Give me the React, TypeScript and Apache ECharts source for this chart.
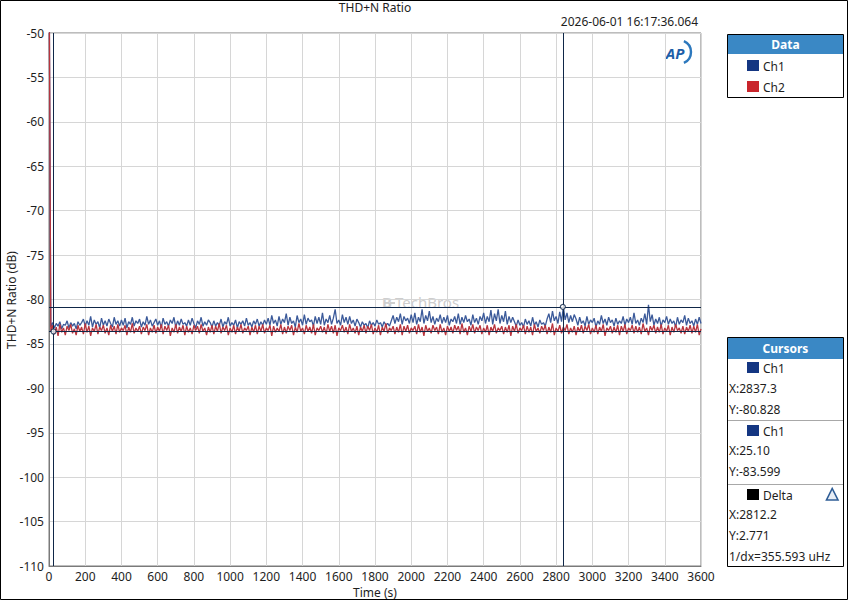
import React, { useEffect, useRef } from "react";
import * as echarts from "echarts";

const FONT = "'Noto Sans', 'DejaVu Sans', sans-serif";

const sampleStep = 10; // seconds between samples
const xTicks = { min: 0, max: 3600, interval: 200 };
const yTicks = { min: -110, max: -50, interval: 5 };

const ch1Values = [
  -40,
  -83.1, -82.6, -83.2, -82.7, -83.0, -82.5, -83.3, -82.8, -82.9, -82.4,
  -83.2, -82.6, -83.0, -82.7, -83.3, -82.5, -82.9, -82.6,
  -82.2, -83.0, -82.4, -82.9, -81.9, -83.1, -82.3, -82.8, -82.5, -83.2,
  -82.1, -82.9, -82.4, -83.0, -82.2, -82.7, -83.1, -82.0, -82.8, -82.4,
  -83.0, -82.3, -82.9, -82.1, -83.2, -82.5, -82.8, -82.0, -83.0, -82.4,
  -82.7, -82.2, -83.1, -82.5, -82.9, -81.9, -82.8, -82.3, -83.0, -82.6,
  -82.2, -82.9, -82.4, -83.2, -82.1, -82.8, -82.5, -83.0, -82.3, -82.7,
  -82.0, -83.1, -82.4, -82.9, -82.2, -82.8, -82.6, -83.0, -82.3, -82.9,
  -82.1, -82.7, -83.2, -82.4, -82.8, -82.0, -83.0, -82.5, -82.9, -82.3,
  -82.6, -83.1,
  -82.4, -83.0, -82.6, -82.9, -82.2, -83.1, -82.5, -82.8, -82.0, -83.0,
  -82.6, -82.9, -82.3, -83.2, -82.5, -82.8, -82.4, -83.0, -82.1, -82.9,
  -82.6, -83.1, -82.4, -82.8, -82.2, -83.0, -82.5, -82.9, -82.3, -82.8,
  -82.1, -82.9, -81.8, -82.7, -82.3, -83.0, -81.9, -82.8, -82.2, -82.6,
  -81.6, -82.9, -82.0, -82.7, -82.4, -83.1, -81.8, -82.6, -82.2, -82.9,
  -81.7, -82.8, -82.1, -82.5, -82.3, -83.0, -81.9, -82.7, -82.0, -82.8,
  -81.5, -82.9, -82.2, -82.6, -81.8, -82.8, -82.1, -81.1, -82.7, -82.3,
  -82.9, -81.7, -82.6, -82.0, -82.8, -81.9, -82.7, -82.3, -83.0, -82.2,
  -82.6, -83.1, -82.5, -82.9, -82.7, -83.2, -82.4, -82.9, -82.6, -83.0,
  -82.3, -82.8, -82.6, -83.1, -82.5, -82.9, -82.7, -83.0, -82.4,
  -81.8, -82.7, -82.0, -82.5, -81.6, -82.8, -81.9, -82.4, -82.1, -82.7,
  -81.7, -82.6, -81.5, -82.8, -82.0, -82.5, -81.1, -82.7, -81.8, -82.4,
  -81.3, -82.6, -81.9, -82.8, -82.1, -82.5, -81.7, -82.7, -82.0, -82.6,
  -81.8, -82.9, -82.2, -82.5, -81.9, -82.7, -81.6, -82.8, -82.0, -82.6,
  -81.8, -82.5, -82.2, -82.9, -81.7, -82.6, -82.1, -82.8, -81.9, -82.4,
  -81.5, -82.7, -81.9, -82.5, -81.2, -82.8, -81.6, -82.4, -81.1, -82.7,
  -81.8, -82.5, -81.3, -82.8, -81.9, -82.6, -82.0,
  -82.5, -83.0, -82.3, -82.9, -82.6, -83.1, -82.2, -82.8, -82.4, -83.0,
  -82.0, -82.9, -82.5, -83.1, -82.3, -82.8, -82.6, -83.0, -82.2,
  -81.6, -82.6, -81.3, -82.4, -81.9, -82.7, -81.4, -82.5, -80.83, -82.3,
  -81.5, -82.6, -81.8, -82.5, -81.7,
  -82.2, -82.9, -82.0, -82.7, -82.4, -83.0, -81.9, -82.8, -82.3, -82.6,
  -82.1, -83.1, -82.4, -82.8, -81.8, -82.7, -82.2, -82.9, -82.0, -82.6,
  -82.3, -83.0, -82.1, -82.8, -82.4, -82.7, -81.9, -82.9, -82.2, -82.6,
  -82.0, -82.8, -81.5, -82.7, -82.3, -82.9, -82.1, -82.6, -81.6, -82.8,
  -80.6, -82.5, -81.7, -82.9, -82.2, -82.7, -82.0, -83.0, -82.3, -82.6,
  -81.9, -82.8, -82.2, -82.7, -82.4, -83.1, -82.0, -82.8, -82.3, -82.6,
  -81.8, -82.9, -82.1, -82.7, -82.4, -83.0, -82.2, -82.8, -82.0, -82.7,
];

const ch2Values = [
  -40,
  -83.6, -82.9, -83.9, -83.1, -84.1, -82.8, -83.7, -83.2, -84.0, -83.0,
  -83.5, -82.8, -83.8, -83.3, -84.0, -82.9, -83.6, -83.1, -83.9, -82.7,
  -83.7, -83.0, -84.1, -83.2, -83.6, -82.8, -83.9, -83.1, -83.5, -82.9,
  -83.8, -83.2, -84.0, -82.9, -83.6, -83.0, -83.9, -82.8, -83.7, -83.2,
  -83.5, -82.9, -84.0, -83.1, -83.7, -82.7, -83.8, -83.2, -83.6, -83.0,
  -83.9, -83.1, -83.5, -82.8, -84.0, -83.2, -83.7, -82.9, -83.8, -83.1,
  -83.6, -82.8, -83.9, -83.0, -83.5, -82.9, -84.1, -83.2, -83.7, -82.8,
  -83.8, -83.1, -83.6, -82.9, -84.0, -83.0, -83.7, -83.2, -83.9, -82.9,
  -83.5, -83.0, -83.8, -82.8, -83.6, -83.2, -84.0, -83.1, -83.7, -82.9,
  -83.9, -83.0, -83.6, -82.7, -83.8, -83.1, -83.5, -82.9, -84.0, -83.2,
  -83.7, -82.9, -83.9, -83.1, -83.6, -82.8, -83.8, -83.2, -83.5, -83.0,
  -84.0, -83.1, -83.7, -82.9, -83.9, -83.0, -83.6, -82.8, -83.8, -83.2,
  -83.5, -82.9, -84.1, -83.0, -83.7, -83.2, -83.6, -82.8, -83.9, -83.1,
  -83.8, -83.0, -83.5, -82.9, -84.0, -83.1, -83.7, -82.7, -83.6, -83.2,
  -83.9, -82.9, -83.6, -83.1, -83.8, -82.8, -84.0, -83.2, -83.5, -83.0,
  -83.7, -83.1, -83.9, -82.8, -83.6, -83.0, -83.8, -82.9, -84.1, -83.2,
  -83.5, -82.9, -83.7, -83.1, -83.9, -82.8, -83.6, -83.2, -83.8, -83.0,
  -84.0, -83.1, -83.6, -82.9, -83.8, -83.0, -83.5, -82.8, -83.9, -83.2,
  -83.7, -82.9, -84.0, -83.1, -83.6, -82.7, -83.8, -83.2, -83.5, -83.0,
  -83.9, -83.1, -83.7, -82.8, -84.0, -83.0, -83.6, -82.9, -83.8, -83.2,
  -83.5, -83.0, -83.9, -82.8, -83.7, -83.1, -84.1, -82.9, -83.6, -83.2,
  -83.8, -82.9, -83.5, -83.1, -83.9, -82.8, -83.7, -83.2, -84.0, -83.0,
  -83.6, -83.1, -83.8, -82.9, -83.5, -83.0, -83.9, -82.7, -83.7, -83.2,
  -84.0, -83.0, -83.6, -82.8, -83.8, -83.1, -83.5, -82.9, -83.9, -83.2,
  -83.7, -82.9, -84.0, -83.1, -83.6, -82.8, -83.8, -83.2, -83.5, -83.0,
  -83.9, -83.1, -83.7, -82.9, -84.1, -83.0, -83.6, -82.8, -83.8, -83.2,
  -83.5, -82.9, -83.9, -83.0, -83.7, -83.1, -84.0, -82.8, -83.6, -83.2,
  -83.8, -83.0, -83.5, -82.9, -83.9, -83.1, -83.7, -82.7, -84.0, -83.2,
  -83.6, -82.9, -83.8, -83.1, -83.5, -82.8, -83.9, -83.2, -83.7, -83.0,
  -84.0, -83.1, -83.6, -82.9, -83.8, -83.0, -83.5, -82.8, -83.9, -83.2,
  -83.7, -82.9, -83.9, -83.1, -83.6, -82.8, -84.1, -83.2, -83.5, -83.0,
  -83.8, -83.1, -83.7, -82.9, -84.0, -83.0, -83.6, -82.8, -83.9, -83.2,
  -83.5, -82.9, -83.8, -83.0, -83.7, -83.1, -83.9, -82.7, -83.6, -83.2,
  -84.0, -83.0, -83.5, -82.9, -83.8, -83.1, -83.7, -82.8, -83.9, -83.2,
  -83.6, -82.9, -84.0, -83.1, -83.7, -82.8, -83.5, -83.2, -83.8, -83.0,
  -83.9, -83.1, -83.6, -82.9, -83.8, -83.0, -83.7, -82.8, -84.0, -83.3,
];

const cursorX = [2837.3, 25.1];
const cursorY = [-80.828, -83.599];
const seriesNames = ["Ch1", "Ch2"];
const titleText = "THD+N Ratio";
const timestampText = "2026-06-01 16:17:36.064";
const xAxisName = "Time (s)";
const yAxisName = "THD+N Ratio (dB)";

const COL_CH1 = "#3b5a9a";
const COL_CH2 = "#b8343d";
const COL_CH1_KEY = "#143682";
const COL_CH2_KEY = "#c9252c";
const COL_CURSOR = "#0f2748";
const COL_HEADER = "#3a88c5";

function toPairs(values: number[]) {
  return values.map((v, i) => [i * sampleStep, v]);
}

function txt(text: string, x: number, y: number, extra: any = {}, rotation = 0) {
  return {
    type: "text",
    x,
    y,
    rotation,
    silent: true,
    style: {
      text,
      font: `12px ${FONT}`,
      fill: "#1e1e1e",
      textAlign: "left",
      textVerticalAlign: "middle",
      ...extra,
    },
  };
}

function rect(x: number, y: number, w: number, h: number, style: any) {
  return { type: "rect", silent: true, shape: { x, y, width: w, height: h }, style };
}

export default function App() {
  const ref = useRef<HTMLDivElement>(null);
  useEffect(() => {
    if (!ref.current) return;
    const chart = echarts.init(ref.current, undefined, { renderer: "svg" });
    const dx = cursorX[0] - cursorX[1];
    const dy = cursorY[0] - cursorY[1];
    const invDx = (1e6 / dx).toFixed(3);

    const graphic: any[] = [
      rect(0.5, 0.5, 847, 599, { fill: "none", stroke: "#000", lineWidth: 1 }),
      txt(titleText, 375, 7, { textAlign: "center" }),
      txt(timestampText, 698, 21, { textAlign: "right" }),
      txt(xAxisName, 375, 592, { textAlign: "center", lineHeight: 12 }),
      txt(yAxisName, 11, 300, { textAlign: "center" }, Math.PI / 2),
      // AP logo
      txt("AP", 675, 53, {
        textAlign: "center",
        font: `italic bold 15px ${FONT}`,
        fill: "#1d5ea8",
      }),
      {
        type: "arc",
        silent: true,
        shape: { cx: 679, cy: 52, r: 12, startAngle: -1.15, endAngle: 1.15, clockwise: true },
        style: { stroke: "#2c78bd", lineWidth: 2.4, fill: "none" },
      },
      // watermark
      txt("B", 382, 302, { font: `bold 15px ${FONT}`, fill: "#cfcfcf" }),
      {
        type: "line",
        silent: true,
        shape: { x1: 390, y1: 303, x2: 395, y2: 303 },
        style: { stroke: "#cfcfcf", lineWidth: 2 },
      },
      txt("TechBros", 395, 302, { font: `15px ${FONT}`, fill: "#cdcdcd" }),
      // Data box
      rect(727.5, 34.5, 116, 63, { fill: "#fff", stroke: "#000", lineWidth: 1 }),
      rect(728, 35, 115, 19, { fill: COL_HEADER }),
      txt("Data", 785.5, 44.5, { textAlign: "center", font: `bold 12px ${FONT}`, fill: "#fff" }),
      rect(747, 60, 12, 11, { fill: COL_CH1_KEY }),
      txt(seriesNames[0], 763, 66),
      rect(747, 81, 12, 11, { fill: COL_CH2_KEY }),
      txt(seriesNames[1], 763, 87),
      // Cursors box
      rect(727.5, 337.5, 116, 229, { fill: "#fff", stroke: "#000", lineWidth: 1 }),
      rect(728, 338, 115, 21, { fill: COL_HEADER }),
      txt("Cursors", 785.5, 348.5, { textAlign: "center", font: `bold 12px ${FONT}`, fill: "#fff" }),
      rect(747, 362, 12, 11, { fill: COL_CH1_KEY }),
      txt(seriesNames[0], 763, 368),
      txt(`X:${cursorX[0].toFixed(1)}`, 729, 388),
      txt(`Y:${cursorY[0].toFixed(3)}`, 729, 409),
      {
        type: "line",
        silent: true,
        shape: { x1: 728, y1: 420.5, x2: 843, y2: 420.5 },
        style: { stroke: "#a8a8a8", lineWidth: 1 },
      },
      rect(747, 425, 12, 11, { fill: COL_CH1_KEY }),
      txt(seriesNames[0], 763, 431),
      txt(`X:${cursorX[1].toFixed(2)}`, 729, 450),
      txt(`Y:${cursorY[1].toFixed(3)}`, 729, 471),
      {
        type: "line",
        silent: true,
        shape: { x1: 728, y1: 484.5, x2: 843, y2: 484.5 },
        style: { stroke: "#a8a8a8", lineWidth: 1 },
      },
      rect(747, 489, 12, 11, { fill: "#000" }),
      txt("Delta", 763, 495),
      {
        type: "polygon",
        silent: true,
        shape: { points: [[826.5, 500], [838, 500], [832.2, 488.5]] },
        style: { stroke: "#2f5d96", lineWidth: 1.6, fill: "#e8eef6" },
      },
      txt(`X:${dx.toFixed(1)}`, 729, 514),
      txt(`Y:${dy.toFixed(3)}`, 729, 535),
      txt(`1/dx=${invDx} uHz`, 729, 556),
    ];

    chart.setOption({
      animation: false,
      textStyle: { fontFamily: FONT },
      grid: {
        left: 49,
        right: 147,
        top: 33,
        bottom: 34,
        containLabel: false,
        outerBoundsMode: "none",
        show: true,
        borderColor: "#7a7a7a",
        borderWidth: 1,
        backgroundColor: "#fff",
      },
      xAxis: {
        type: "value",
        min: xTicks.min,
        max: xTicks.max,
        interval: xTicks.interval,
        axisLine: { show: true, lineStyle: { color: "#7a7a7a" } },
        axisTick: { show: false },
        axisLabel: {
          color: "#1e1e1e",
          fontSize: 12,
          lineHeight: 12,
          margin: 4,
          fontFamily: FONT,
          formatter: (v: number) => String(v),
        },
        splitLine: { show: true, lineStyle: { color: "#d6d6d6", width: 1 } },
      },
      yAxis: {
        type: "value",
        min: yTicks.min,
        max: yTicks.max,
        interval: yTicks.interval,
        axisLine: { show: true, lineStyle: { color: "#7a7a7a" } },
        axisTick: { show: false },
        axisLabel: {
          color: "#1e1e1e",
          fontSize: 12,
          margin: 5,
          fontFamily: FONT,
          formatter: (v: number) => String(v),
        },
        splitLine: { show: true, lineStyle: { color: "#d6d6d6", width: 1 } },
      },
      graphic,
      series: [
        {
          name: seriesNames[0],
          type: "line",
          data: toPairs(ch1Values),
          showSymbol: false,
          symbol: "none",
          clip: true,
          lineStyle: { color: COL_CH1, width: 1.3 },
          itemStyle: { color: COL_CH1 },
          silent: true,
          z: 2,
        },
        {
          name: seriesNames[1],
          type: "line",
          data: toPairs(ch2Values),
          showSymbol: false,
          symbol: "none",
          clip: true,
          lineStyle: { color: COL_CH2, width: 1.3 },
          itemStyle: { color: COL_CH2 },
          silent: true,
          z: 3,
        },
        {
          name: "cursors",
          type: "scatter",
          data: cursorX.map((x, i) => [x, cursorY[i]]),
          symbol: "circle",
          symbolSize: 5,
          itemStyle: { color: "#fff", borderColor: COL_CURSOR, borderWidth: 1.2 },
          silent: true,
          z: 5,
          markLine: {
            silent: true,
            symbol: "none",
            label: { show: false },
            lineStyle: { color: COL_CURSOR, width: 1, type: "solid" },
            data: [
              { xAxis: cursorX[0] },
              { yAxis: cursorY[0] },
              { xAxis: cursorX[1] },
              { yAxis: cursorY[1] },
            ],
          },
        },
      ],
    });
    return () => chart.dispose();
  }, []);

  return (
    <div
      ref={ref}
      style={{ position: "fixed", left: 0, top: 0, width: 848, height: 600, background: "#fff" }}
    />
  );
}
